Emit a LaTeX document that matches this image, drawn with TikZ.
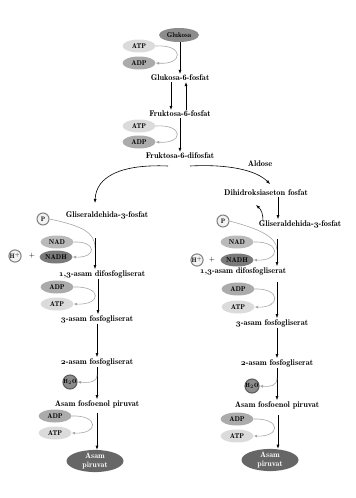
\documentclass[tikz,border=0pt]{standalone}
\usetikzlibrary{shapes.geometric,arrows.meta}
\newcommand{\os}[1]{{\usefont{OML}{cmm}{b}{it}#1}}
\begin{document}
\begin{tikzpicture}[x=1pt,y=-1pt,
  lbl/.style={font=\fontsize{8.3}{9}\fontseries{b}\selectfont, inner sep=1pt},
  mol/.style={ellipse, minimum width=33pt, minimum height=13pt, inner sep=0pt, font=\fontsize{7}{8}\fontseries{b}\selectfont},
  atpst/.style={mol, fill=black!14},
  adpst/.style={mol, fill=black!33},
  nadst/.style={mol, fill=black!27},
  nadhst/.style={mol, fill=black!52},
  glust/.style={mol, minimum width=40pt, minimum height=14pt, fill=black!45},
  pyrst/.style={ellipse, minimum width=57pt, minimum height=22pt, inner sep=0pt, fill=black!60, text=white, align=center, font=\fontsize{8}{8.5}\fontseries{b}\selectfont},
  ionst/.style={circle, minimum size=12pt, inner sep=0pt, draw=black!50, line width=1pt, fill=black!5, font=\fontsize{6.5}{7}\fontseries{b}\selectfont},
  waterst/.style={circle, minimum size=14pt, inner sep=0pt, draw=black!65, line width=1pt, fill=black!45, font=\fontsize{6}{7}\fontseries{b}\selectfont},
  arr/.style={-{Latex[length=4pt,width=3pt]}, black, line width=0.6pt},
  garr/.style={-{Latex[length=3.5pt,width=3pt]}, black!35, line width=0.6pt},
  gline/.style={black!35, line width=0.6pt}]
\useasboundingbox (0,0) rectangle (356,498);

% ---- top part ----
\node[glust] (glu) at (179,35) {Glukosa};
\node[atpst] (atp1) at (139,46) {ATP};
\node[adpst] (adp1) at (139,63) {ADP};
\node[lbl] (g6p) at (180,78) {Glukosa-6-fosfat};
\node[lbl] (f6p) at (180,114) {Fruktosa-6-fosfat};
\node[atpst] (atp2) at (139,126) {ATP};
\node[adpst] (adp2) at (139,142) {ADP};
\node[lbl] (f16) at (180,156) {Fruktosa-6-difosfat};
\node[lbl] (ald) at (260,164) {Aldose};
\node[lbl] (dhap) at (266,193) {Dihidroksiaseton fosfat};

\coordinate (xa) at (171,0);
\coordinate (xb) at (186,0);
\coordinate (xc) at (180,0);
\draw[arr] (glu.south -| xc) -- (g6p.north -| xc);
\draw[garr] (atp1.east) .. controls (184,44) and (184,65) .. (adp1.east);
\draw[arr] (g6p.south -| xa) -- (f6p.north -| xa);
\draw[arr] (f6p.north -| xb) -- (g6p.south -| xb);
\draw[arr] (f6p.south -| xc) -- (f16.north -| xc);
\draw[garr] (atp2.east) .. controls (184,124) and (184,144) .. (adp2.east);

\coordinate (lcs) at (168,166);
\coordinate (lce) at (95,203);
\coordinate (rcs) at (190,166);
\coordinate (rce) at (270,184);
\draw[arr] (lcs) .. controls (122,164) and (96,176) .. (lce);
\draw[arr] (rcs) .. controls (228,164) and (256,170) .. (rce);

% ---- left branch ----
\node[ionst] (pa) at (43,219) {P};
\node[lbl] (gla) at (107,215) {Gliseraldehida-\os{3}-fosfat};
\node[nadst] (nada) at (57,242) {NAD};
\node[nadhst] (nadha) at (56,257) {NADH};
\node[ionst] (ha) at (15,256) {H$^{+}$};
\node[font=\fontsize{7}{8}\selectfont, inner sep=0pt] (plusa) at (32,256) {+};
\node[lbl] (dpga) at (102,274) {\os{1},\os{3}-asam difosfogliserat};
\node[adpst] (adpa) at (57,287) {ADP};
\node[atpst] (atpa) at (57,304) {ATP};
\node[lbl] (pga3a) at (97,319) {\os{3}-asam fosfogliserat};
\node[lbl] (pga2a) at (97,362) {\os{2}-asam fosfogliserat};
\node[waterst] (wa) at (70,382) {H$_{2}$O};
\node[lbl] (pepa) at (97,404) {Asam fosfoenol piruvat};
\node[adpst] (adpa2) at (55,416) {ADP};
\node[atpst] (atpa2) at (55,433) {ATP};
\node[pyrst] (pyra) at (95,461) {Asam\\piruvat};

\coordinate (la) at (95,0);
\coordinate (lb) at (98,0);
\coordinate (lx) at (97,0);
\coordinate (ta) at (95,238);
\draw[gline] (pa.east) .. controls (82,226) and (95,232) .. (95,248);
\draw[arr] (ta) -- (dpga.north -| la);
\draw[garr] (nada.east) .. controls (97,241) and (97,258) .. (nadha.east);
\draw[garr] (adpa.east) .. controls (102,286) and (102,305) .. (atpa.east);
\draw[arr] (dpga.south -| lb) -- (pga3a.north -| lb);
\draw[arr] (pga3a.south -| lx) -- (pga2a.north -| lx);
\draw[arr] (pga2a.south -| lx) -- (pepa.north -| lx);
\coordinate (wsa) at (97,375);
\draw[garr] (wsa) .. controls (97,382) and (90,383) .. (wa.east);
\draw[garr] (adpa2.east) .. controls (99,415) and (99,434) .. (atpa2.east);
\coordinate (psa) at (97,413);
\draw[arr] (psa) -- (pyra.north -| lx);

% ---- right branch ----
\node[ionst] (pb) at (223,221) {P};
\node[lbl] (glb) at (300,224) {Gliseraldehida-\os{3}-fosfat};
\node[nadst] (nadb) at (237,242) {NAD};
\node[nadhst] (nadhb) at (237,260) {NADH};
\node[ionst] (hb) at (197,260) {H$^{+}$};
\node[font=\fontsize{7}{8}\selectfont, inner sep=0pt] (plusb) at (212,260) {+};
\node[lbl] (dpgb) at (243,271) {\os{1},\os{3}-asam difosfogliserat};
\node[adpst] (adpb) at (238,289) {ADP};
\node[atpst] (atpb) at (238,307) {ATP};
\node[lbl] (pga3b) at (272,323) {\os{3}-asam fosfogliserat};
\node[lbl] (pga2b) at (277,363) {\os{2}-asam fosfogliserat};
\node[waterst] (wb) at (252,386) {H$_{2}$O};
\node[lbl] (pepb) at (277,405) {Asam fosfoenol piruvat};
\node[adpst] (adpb2) at (237,419) {ADP};
\node[atpst] (atpb2) at (237,436) {ATP};
\node[pyrst] (pyrb) at (270,460) {Asam\\piruvat};

\coordinate (ra) at (278,0);
\coordinate (rx) at (277,0);
\draw[arr] (dhap.south -| ra) -- (glb.north -| ra);
\coordinate (ups) at (263,221);
\coordinate (upe) at (256,205);
\draw[arr] (ups) to[bend right=25] (upe);
\coordinate (tb) at (277,239);
\draw[gline] (pb.east) .. controls (256,228) and (277,236) .. (277,250);
\draw[arr] (tb) -- (dpgb.north -| rx);
\draw[garr] (nadb.east) .. controls (281,241) and (281,261) .. (nadhb.east);
\draw[garr] (adpb.east) .. controls (281,288) and (281,308) .. (atpb.east);
\coordinate (sb) at (277,282);
\draw[arr] (sb) -- (pga3b.north -| rx);
\draw[arr] (pga3b.south -| rx) -- (pga2b.north -| rx);
\draw[arr] (pga2b.south -| rx) -- (pepb.north -| rx);
\coordinate (wsb) at (277,378);
\draw[garr] (wsb) .. controls (277,386) and (270,387) .. (wb.east);
\draw[garr] (adpb2.east) .. controls (281,418) and (281,437) .. (atpb2.east);
\coordinate (psb) at (278,415);
\draw[arr] (psb) -- (pyrb.north -| ra);
\end{tikzpicture}
\end{document}
